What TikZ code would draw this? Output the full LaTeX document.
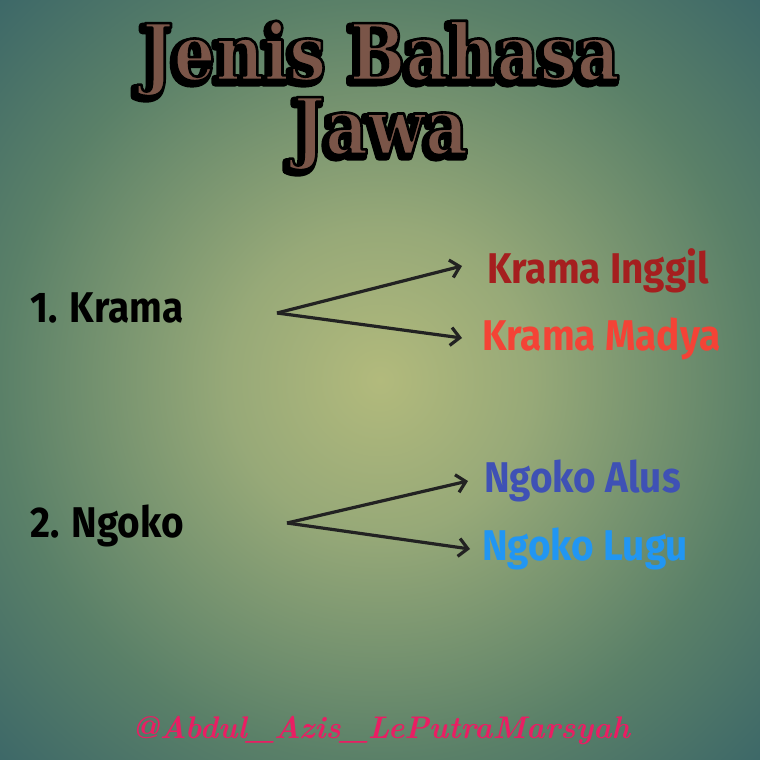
\documentclass[tikz,border=0pt]{standalone}
\usepackage{fontspec}
\usetikzlibrary{arrows.meta}
\newfontfamily\titlefont[FakeStretch=0.85]{DejaVu Serif Bold}
\newfontfamily\labelfont[FakeStretch=0.9]{Fira Sans}
\definecolor{bgA}{HTML}{B2BA7C}
\definecolor{bgB}{HTML}{97A978}
\definecolor{bgC}{HTML}{5A8068}
\definecolor{bgD}{HTML}{3D6868}
\definecolor{titlebrown}{HTML}{7A5548}
\definecolor{inggil}{HTML}{A51F1F}
\definecolor{madya}{HTML}{F44336}
\definecolor{alus}{HTML}{3F51B5}
\definecolor{lugu}{HTML}{2196F3}
\definecolor{wmark}{HTML}{E91E63}
\definecolor{arrowc}{HTML}{222222}
\pgfdeclareradialshading{bgshade}{\pgfpoint{0bp}{0bp}}{%
  color(0bp)=(bgA); color(10bp)=(bgB); color(25bp)=(bgC); color(35.5bp)=(bgD); color(50bp)=(bgD)}
\newcommand\outlinetitle[1]{{\color{titlebrown}\special{pdf:literal direct 0 0 0 RG 2.6 w 1 j 2 Tr}#1\special{pdf:literal direct 0 Tr}}}
\newcommand\shadowtitle[1]{{\color{black}\special{pdf:literal direct 0 0 0 RG 7 w 1 j 2 Tr}#1\special{pdf:literal direct 0 Tr}}}
\tikzset{
  titlestyle/.style={font=\titlefont\fontsize{78}{82}\selectfont, inner sep=0pt, anchor=base},
  mainlabel/.style={font=\labelfont\bfseries\fontsize{43}{46}\selectfont, text=black, inner sep=0pt, anchor=base west},
  sublabel/.style={font=\labelfont\bfseries\fontsize{43}{46}\selectfont, inner sep=0pt, anchor=base west},
  forkarrow/.style={draw=arrowc, line width=3.2pt, line join=miter, -{Straight Barb[length=9pt,width=18pt]}},
}
\begin{document}
\begin{tikzpicture}[x=1pt,y=-1pt]
\useasboundingbox (0,0) rectangle (760,760);
\shade[shading=bgshade] (0,0) rectangle (760,760);
\node[titlestyle] (title1shadow) at (378,83) {\shadowtitle{Jenis Bahasa}};
\node[titlestyle] (title2shadow) at (378,157) {\shadowtitle{Jawa}};
\node[titlestyle] (title1) at (381,80) {\outlinetitle{Jenis Bahasa}};
\node[titlestyle] (title2) at (381,154) {\outlinetitle{Jawa}};
\node[mainlabel] (krama) at (30,322) {1. Krama};
\node[mainlabel] (ngoko) at (30,537) {2. Ngoko};
\node[sublabel, text=inggil] (inggil) at (487,283) {Krama Inggil};
\node[sublabel, text=madya] (madya) at (482,350) {Krama Madya};
\node[sublabel, text=alus] (alus) at (484,492) {Ngoko Alus};
\node[sublabel, text=lugu] (lugu) at (482,560) {Ngoko Lugu};
\coordinate (kfork) at (277,313);
\coordinate (nfork) at (287,523);
\coordinate (kup) at (462,266);
\coordinate (kdown) at (462,338);
\coordinate (nup) at (468,481);
\coordinate (ndown) at (470,549);
\draw[forkarrow] (kfork) -- (kup);
\draw[forkarrow] (kfork) -- (kdown);
\draw[forkarrow] (nfork) -- (nup);
\draw[forkarrow] (nfork) -- (ndown);
\node[inner sep=0pt, anchor=base, text=wmark] (wm) at (381,738) {\resizebox{498pt}{!}{\bfseries\itshape @Abdul\_Azis\_LePutraMarsyah}};
\end{tikzpicture}
\end{document}
